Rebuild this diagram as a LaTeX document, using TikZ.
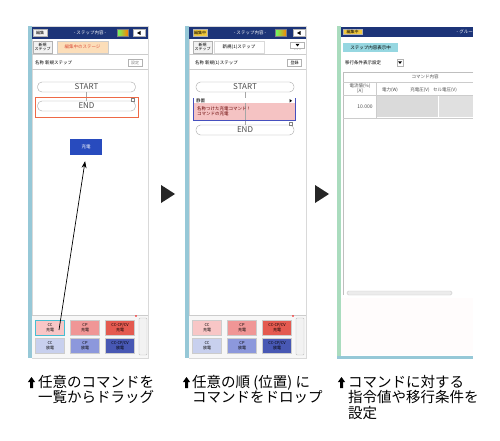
\documentclass[tikz,border=0pt]{standalone}
\usepackage{fontspec}
\newfontfamily\cjk{Noto Sans CJK JP}
\usetikzlibrary{arrows.meta}
\definecolor{titleblue}{RGB}{28,52,120}
\definecolor{stripblue}{RGB}{150,200,215}
\definecolor{stripgreen}{RGB}{170,220,190}
\definecolor{tabpeach}{RGB}{252,222,185}
\definecolor{tabred}{RGB}{220,80,60}
\definecolor{dropred}{RGB}{238,105,70}
\definecolor{dragblue}{RGB}{40,75,190}
\definecolor{chgA}{RGB}{248,198,198}
\definecolor{chgB}{RGB}{240,150,150}
\definecolor{chgC}{RGB}{228,90,80}
\definecolor{disA}{RGB}{200,208,238}
\definecolor{disB}{RGB}{140,152,220}
\definecolor{disC}{RGB}{72,88,180}
\definecolor{pickcyan}{RGB}{70,190,210}
\definecolor{cmdpink}{RGB}{245,195,195}
\definecolor{cmdblue}{RGB}{70,80,190}
\definecolor{editgold}{RGB}{240,200,60}
\definecolor{labelcyan}{RGB}{150,215,225}
\definecolor{cellgray}{RGB}{218,218,218}
\tikzset{
  ui/.style={font=\cjk\fontsize{4.5}{5}\selectfont, inner sep=0pt},
  uibtn/.style={draw=gray!60, fill=gray!10, font=\cjk\fontsize{4}{4.5}\selectfont, inner sep=0pt, align=center},
  capsule/.style={draw=gray!70, fill=white, rounded corners=4.5pt, minimum width=98pt, minimum height=10pt, inner sep=0pt, font=\cjk\fontsize{8}{8}\selectfont, text=gray!60!black},
  cmdbtn/.style={draw=gray!40, minimum width=29pt, minimum height=15pt, inner sep=0pt, align=center, font=\cjk\fontsize{4}{4.5}\selectfont},
  caption/.style={font=\cjk\fontsize{14.5}{15.5}\selectfont, align=left, inner sep=0pt, anchor=north west},
  upmark/.pic={\fill (0,0) -- (3.6,5) -- (1.5,5) -- (1.5,11) -- (-1.5,11) -- (-1.5,5) -- (-3.6,5) -- cycle;},
  chartbox/.style={draw=gray, left color=green!60, right color=orange, minimum width=11pt, minimum height=7pt, inner sep=0pt}
}
\begin{document}
\begin{tikzpicture}[x=1pt,y=-1pt]
   \useasboundingbox (0,0) rectangle (500,441);
   \fill[white] (0,0) rectangle (500,441);
   % panel 1
   \fill[stripblue] (28,26) rectangle (32,358);
   \draw[gray!30, fill=white] (32,26) rectangle (148,358);
   \fill[titleblue] (32,27) rectangle (148,39);
   \node[uibtn, minimum width=14pt, minimum height=7pt] (edit1) at (40,33) {編集};
   \node[ui, text=white] (title1) at (90,33) {- ステップ内容 -};
   \node[chartbox] (chart1) at (122.5,33) {};
   \node[uibtn, fill=white, minimum width=12pt, minimum height=7pt] (back1) at (139,33) {};
   \fill (137,33) -- (140.5,31) -- (140.5,35) -- cycle;
   \node[uibtn, minimum width=19pt, minimum height=12pt] (new1) at (42.5,47) {新規\\ステップ};
   \node[ui, fill=tabpeach, draw=gray!40, text=tabred, minimum width=51pt, minimum height=12pt] (tab1) at (82.5,47) {編集中のステージ};
   \draw[gray!40] (32,54) -- (148,54);
   \node[ui, anchor=west] (name1) at (35,63) {名称\ 新規ステップ};
   \node[uibtn, fill=white, text=gray, minimum width=14pt, minimum height=7pt] (set1) at (135,63) {設定};
   \draw[gray!40] (32,69) -- (148,69);
   \node[capsule] (start1) at (86.5,87) {START};
   \node[capsule] (end1) at (86.5,106) {END};
   \draw[gray!70] (start1) -- (end1);
   \draw[dropred, line width=0.8pt] (35,97) rectangle (138,117);
   \node[draw=gray, fill=white, minimum size=3pt, inner sep=0pt] (mark1) at (133,100) {};
   \node[ui, fill=dragblue, text=white, minimum width=32pt, minimum height=16pt] (drag) at (86,147) {充電};
   \fill[gray!6] (32,315) rectangle (148,358);
   \draw[gray!40] (32,315) -- (148,315);
   \fill[red] (136,316) circle (0.8);
   \node[cmdbtn, fill=chgA, draw=pickcyan, line width=0.8pt] (cc1) at (50,327.5) {CC\\充電};
   \node[cmdbtn, fill=chgB] (cp1) at (85,327.5) {CP\\充電};
   \node[cmdbtn, fill=chgC] (ccv1) at (120,327.5) {CC-CP/CV\\充電};
   \node[cmdbtn, fill=disA] (dc1) at (50,345.5) {CC\\放電};
   \node[cmdbtn, fill=disB] (dp1) at (85,345.5) {CP\\放電};
   \node[cmdbtn, fill=disC] (dcv1) at (120,345.5) {CC-CP/CV\\放電};
   \draw[gray!50, fill=gray!10, rounded corners=1pt] (139,318) rectangle (147,355);
   \coordinate (grab) at (59,330);
   \draw[-{Stealth[length=7pt,width=5pt]}, line width=0.7pt, shorten >=6pt] (grab) -- (drag.south);
   % panel 2
   \fill[stripblue] (185,26) rectangle (189,358);
   \draw[gray!30, fill=white] (189,26) rectangle (306,358);
   \fill[titleblue] (189,27) rectangle (306,39);
   \node[uibtn, fill=editgold, minimum width=14pt, minimum height=7pt] (edit2) at (200,33) {編集中};
   \node[ui, text=white] (title2) at (250,33) {- ステップ内容 -};
   \node[chartbox] (chart2) at (281,33) {};
   \node[uibtn, fill=white, minimum width=12pt, minimum height=7pt] (back2) at (299,33) {};
   \fill (297,33) -- (300.5,31) -- (300.5,35) -- cycle;
   \node[uibtn, minimum width=19pt, minimum height=12pt] (new2) at (202.5,47) {新規\\ステップ};
   \node[ui, draw=gray!30, fill=white, minimum width=50pt, minimum height=12pt] (tab2) at (239,47) {新規(1)ステップ};
   \node[uibtn, fill=white, minimum width=14pt, minimum height=6pt] (down2) at (297.5,45) {};
   \fill (295.5,43.8) -- (299.5,43.8) -- (297.5,46.5) -- cycle;
   \node[ui, text=gray] (dots2) at (297.5,51) {- - -};
   \draw[gray!40] (189,54) -- (306,54);
   \node[ui, anchor=west] (name2) at (195,63) {名称\ 新規(1)ステップ};
   \node[uibtn, fill=white, minimum width=14pt, minimum height=7pt] (reg2) at (294.5,63) {登録};
   \draw[gray!40] (189,69) -- (306,69);
   \node[capsule] (start2) at (245,87) {START};
   \node[capsule] (end2) at (245,130) {END};
   \draw[gray!70] (start2) -- (end2);
   \node[draw=cmdblue, fill=cmdpink, line width=0.7pt, minimum width=102pt, minimum height=22pt, inner sep=0pt] (cmd2) at (244,109) {};
   \fill[white] (193.5,98.5) rectangle (294.5,103);
   \draw[gray!70] (245,103) -- (245,119.5);
   \node[ui, anchor=west] (still2) at (196,100.8) {静置};
   \fill (289.5,99) -- (292,100.8) -- (289.5,102.6) -- cycle;
   \node[ui, anchor=west, align=left, text=red!40!black] (desc2) at (197,111) {名称つけた充電コマンド！\\コマンドの充電};
   \node[draw=gray, fill=white, minimum size=3pt, inner sep=0pt] (mark2) at (291,124) {};
   \fill[gray!6] (189,315) rectangle (306,358);
   \draw[gray!40] (189,315) -- (306,315);
   \fill[red] (293,316) circle (0.8);
   \node[cmdbtn, fill=chgA] (cc2) at (207,327.5) {CC\\充電};
   \node[cmdbtn, fill=chgB] (cp2) at (242,327.5) {CP\\充電};
   \node[cmdbtn, fill=chgC] (ccv2) at (277,327.5) {CC-CP/CV\\充電};
   \node[cmdbtn, fill=disA] (dc2) at (207,345.5) {CC\\放電};
   \node[cmdbtn, fill=disB] (dp2) at (242,345.5) {CP\\放電};
   \node[cmdbtn, fill=disC] (dcv2) at (277,345.5) {CC-CP/CV\\放電};
   \draw[gray!50, fill=gray!10, rounded corners=1pt] (296,318) rectangle (304,355);
   % panel 3
   \fill[stripgreen] (337,26) rectangle (341,358);
   \fill[white] (341,26) rectangle (473,358);
   \fill[pink!5] (341,298) rectangle (473,355);
   \fill[titleblue] (341,27) rectangle (473,37);
   \node[uibtn, fill=editgold, minimum width=19pt, minimum height=5pt] (edit3) at (352.5,32) {編集中};
   \node[ui, text=white, anchor=east] (title3) at (473,32) {- グルー};
   \node[ui, fill=labelcyan, minimum width=55pt, minimum height=9pt] (label3) at (370.5,47.5) {ステップ内容表示中};
   \node[ui, anchor=west] (cond3) at (345,62.5) {移行条件表示設定};
   \node[uibtn, fill=white, minimum width=6pt, minimum height=7pt] (pick3) at (400,62.5) {};
   \fill (398,61.3) -- (402,61.3) -- (400,64) -- cycle;
   \draw[gray!50] (473,72) -- (343,72) -- (343,295);
   \draw[gray!40] (343,82) -- (473,82);
   \draw[gray!40] (343,95) -- (473,95);
   \draw[gray!40] (343,118) -- (473,118);
   \draw[gray!40] (376,82) -- (376,118);
   \node[ui, text=gray!60!black] (head3) at (425,77) {コマンド内容};
   \node[ui, align=center, text=gray!60!black] (cur3) at (360,88.5) {電流値(\%)\\{}[A]};
   \node[ui, text=gray!60!black] (pow3) at (390,90) {電力(W)};
   \node[ui, text=gray!60!black] (volt3) at (420,90) {充電圧(V)};
   \node[ui, text=gray!60!black] (cell3) at (445,90) {セル電圧(V)};
   \node[ui, font=\cjk\fontsize{5}{5}\selectfont, text=gray!60!black] (val3) at (365,107) {10.000};
   \fill[cellgray] (377,96) rectangle (437.5,117.5);
   \fill[cellgray!85] (438.5,96) rectangle (473,117.5);
   \draw[gray!40, fill=gray!15, rounded corners=1.5pt] (347,291) rectangle (452,295);
   \fill[stripblue] (337,356) rectangle (473,358.5);
   % arrows between panels
   \fill[black!85] (161,185) -- (175,194) -- (161,203) -- cycle;
   \fill[black!85] (315,185) -- (329,194) -- (315,203) -- cycle;
   % captions
   \pic at (31.5,377) {upmark};
   \node[caption] (cap1) at (38,375) {任意のコマンドを\\一覧からドラッグ};
   \pic at (186.5,377) {upmark};
   \node[caption] (cap2) at (192,375) {任意の順 (位置) に\\コマンドをドロップ};
   \pic at (341.5,377) {upmark};
   \node[caption] (cap3) at (348,375) {コマンドに対する\\指令値や移行条件を\\設定};
\end{tikzpicture}
\end{document}
